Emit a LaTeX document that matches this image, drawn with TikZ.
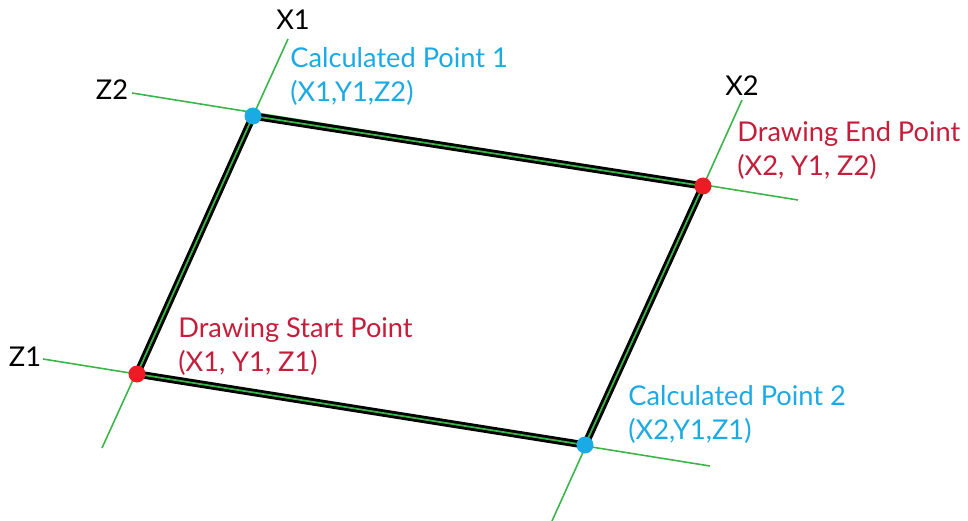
\documentclass[tikz,border=0pt]{standalone}
\usepackage{fontspec}
\setmainfont{Lato}
\usetikzlibrary{calc}
\definecolor{axisgreen}{RGB}{57,181,74}
\definecolor{calcblue}{RGB}{28,170,228}
\definecolor{dotred}{RGB}{237,28,36}
\definecolor{textred}{RGB}{196,30,58}

\begin{document}
\begin{tikzpicture}[x=0.02cm,y=-0.02cm,
        axis/.style={axisgreen, line width=0.9pt},
        edgeblack/.style={black, line width=4.2pt},
        edgegreen/.style={axisgreen, line width=1pt},
        pointdot/.style={circle, inner sep=0pt, minimum size=0.34cm},
        axislabel/.style={font=\fontsize{15.5}{19}\selectfont, inner sep=0pt},
        pointlabel/.style={font=\fontsize{15.5}{19.3}\selectfont, align=left, inner sep=0pt, anchor=base west}]
        \useasboundingbox (0,0) rectangle (968,521);
        % coordinates
        \coordinate (X1top) at (288,39);
        \coordinate (X1bot) at (102,448);
        \coordinate (X2top) at (742,100);
        \coordinate (X2bot) at (552,521);
        \coordinate (Z1left) at (43,359);
        \coordinate (Z1right) at (710,466);
        \coordinate (Z2left) at (132,93);
        \coordinate (Z2right) at (798,200);
        \coordinate (start) at (137,374);
        \coordinate (calcA) at (253,116);
        \coordinate (finish) at (703,186);
        \coordinate (calcB) at (585,445);
        % green axis lines
        \draw[axis] (X1top) -- (X1bot);
        \draw[axis] (X2top) -- (X2bot);
        \draw[axis] (Z1left) -- (Z1right);
        \draw[axis] (Z2left) -- (Z2right);
        % rectangle edges
        \draw[edgeblack, line join=round] (start) -- (calcA) -- (finish) -- (calcB) -- cycle;
        \draw[edgegreen, line join=round] (start) -- (calcA) -- (finish) -- (calcB) -- cycle;
        % points
        \node[pointdot, fill=dotred] (startdot) at (start) {};
        \node[pointdot, fill=calcblue] (calcAdot) at (calcA) {};
        \node[pointdot, fill=dotred] (finishdot) at (finish) {};
        \node[pointdot, fill=calcblue] (calcBdot) at (calcB) {};
        % axis labels
        \node[axislabel] (X1label) at (293,20) {X1};
        \node[axislabel] (X2label) at (742,86) {X2};
        \node[axislabel] (Z1label) at (25,357) {Z1};
        \node[axislabel] (Z2label) at (112,90) {Z2};
        % point labels (anchored on the second line)
        \node[pointlabel, calcblue] (calcAlabel) at (290,101) {Calculated Point 1\\(X1,Y1,Z2)};
        \node[pointlabel, textred] (finishlabel) at (737,175) {Drawing End Point\\(X2, Y1, Z2)};
        \node[pointlabel, textred] (startlabel) at (178,371) {Drawing Start Point\\(X1, Y1, Z1)};
        \node[pointlabel, calcblue] (calcBlabel) at (628,439) {Calculated Point 2\\(X2,Y1,Z1)};
\end{tikzpicture}
\end{document}
